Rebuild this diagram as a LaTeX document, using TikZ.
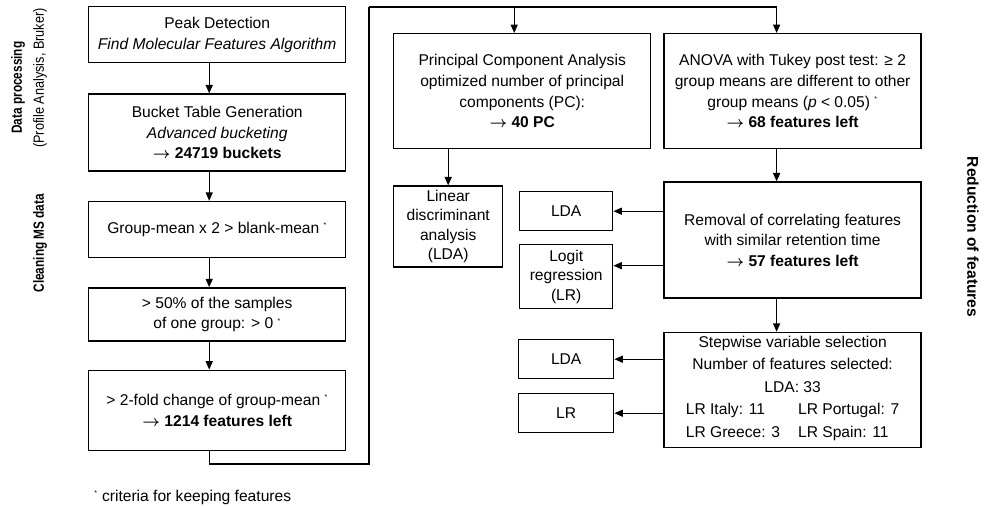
\documentclass[tikz,border=0pt]{standalone}
\usepackage{fontspec}
\setmainfont{Liberation Sans}
\usepackage{tikz}
\usetikzlibrary{arrows.meta,positioning}

\newcommand{\yields}{\mbox{\boldmath$\rightarrow$}}

\begin{document}
\begin{tikzpicture}[
  box/.style={draw, line width=1pt, minimum width=6.425cm, align=center, inner sep=2pt,
    font=\fontsize{11.1}{14.7}\selectfont},
  small/.style={box, minimum width=2.325cm},
  arr/.style={-{Triangle[length=6pt,width=5pt]}, line width=0.9pt},
  link/.style={line width=0.9pt},
  side/.style={font=\fontsize{11.1}{14.7}\selectfont, inner sep=0pt},
  node distance=0.725cm,
]
\useasboundingbox (0,0) rectangle (24.6,-12.65);

% left column: data processing and cleaning
\node[box, minimum height=1.4cm, anchor=north west] (peak) at (2.2,-0.15)
  {Peak Detection\\\textit{Find Molecular Features Algorithm}};
\node[box, minimum height=1.925cm, below=0.75cm of peak] (bucket)
  {Bucket Table Generation\\\textit{Advanced bucketing}\\\textbf{\yields\ 24719 buckets}};
\node[box, minimum height=1.4cm, below=of bucket] (blank)
  {Group-mean x 2 > blank-mean \textsuperscript{\tiny *}};
\node[box, minimum height=1.325cm, below=of blank] (half)
  {> 50\% of the samples\\of one group: > 0 \textsuperscript{\tiny *}};
\node[box, minimum height=2cm, below=0.7cm of half] (fold)
  {> 2-fold change of group-mean \textsuperscript{\tiny *}\\\textbf{\yields\ 1214 features left}};

\draw[arr] ([xshift=-0.2cm]peak.south) -- ([xshift=-0.2cm]bucket.north);
\draw[arr] ([xshift=-0.2cm]bucket.south) -- ([xshift=-0.2cm]blank.north);
\draw[arr] ([xshift=-0.2cm]blank.south) -- ([xshift=-0.2cm]half.north);
\draw[arr] ([xshift=-0.2cm]half.south) -- ([xshift=-0.2cm]fold.north);

% reduction of features
\node[box, minimum height=2.875cm, anchor=north west] (pca) at (9.825,-0.825)
  {Principal Component Analysis\\optimized number of principal\\components (PC):\\\textbf{\yields\ 40 PC}};
\node[box, minimum height=2.875cm, right=0.3cm of pca] (anova)
  {ANOVA with Tukey post test: ≥ 2\\group means are different to other\\group means (\textit{p} < 0.05) \textsuperscript{\tiny *}\\\textbf{\yields\ 68 features left}};
\node[box, minimum height=2.9cm, below=0.8cm of anova] (removal)
  {Removal of correlating features\\with similar retention time\\\textbf{\yields\ 57 features left}};
\node[box, minimum height=2.875cm, below=0.825cm of removal, inner sep=1pt,
  font=\fontsize{11.1}{16}\selectfont] (stepwise)
  {Stepwise variable selection\\Number of features selected:\\LDA: 33\\
   \begin{tabular}[t]{@{}l@{\hspace{0.45cm}}l@{}}
     LR Italy: 11 & LR Portugal: 7\\
     LR Greece: 3 & LR Spain: 11
   \end{tabular}};

\node[small, minimum width=2.725cm, minimum height=2.025cm,
  below=0.9cm of pca.south west, anchor=north west, font=\fontsize{11.1}{13.8}\selectfont] (lin)
  {Linear\\discriminant\\analysis\\(LDA)};
\node[small, minimum height=0.975cm, anchor=north west] (lda1) at (12.975,-4.775) {LDA};
\node[small, minimum height=1.6cm, anchor=north west,
  font=\fontsize{11.1}{13.8}\selectfont] (lgt) at (12.975,-6.1) {Logit\\regression\\(LR)};
\node[small, minimum width=2.375cm, minimum height=0.975cm, anchor=north west] (lda2)
  at (12.95,-8.475) {LDA};
\node[small, minimum width=2.375cm, minimum height=0.975cm, anchor=north west] (lr)
  at (12.95,-9.825) {LR};

\coordinate (low) at (9.225,-11.6);
\coordinate (high) at (9.225,-0.175);
\draw[link] ([xshift=-0.2cm]fold.south) |- (low) -- (high);
\draw[arr] (high) -| ([xshift=-0.4cm]anova.north);
\draw[arr] ([xshift=-0.2cm]pca.north |- high) -- ([xshift=-0.2cm]pca.north);
\draw[arr] ([xshift=-0.4cm]anova.south) -- ([xshift=-0.4cm]removal.north);
\draw[arr] ([xshift=-0.4cm]removal.south) -- ([xshift=-0.4cm]stepwise.north);
\draw[arr] (lin.north |- pca.south) -- (lin.north);
\draw[arr] (removal.west |- lda1.east) -- (lda1.east);
\draw[arr] ([yshift=0.275cm]removal.west |- lgt.east) -- ([yshift=0.275cm]lgt.east);
\draw[arr] (stepwise.west |- lda2.east) -- (lda2.east);
\draw[arr] (stepwise.west |- lr.east) -- (lr.east);

% side labels
\node[side, rotate=90, font=\fontsize{10.5}{12}\selectfont\bfseries] (dproc) at (0.45,-2.19)
  {\scalebox{0.8}[1]{Data processing}};
\node[side, rotate=90, font=\fontsize{10.5}{12}\selectfont] (profile) at (1.0,-1.95)
  {\scalebox{0.86}[1]{(Profile Analysis, Bruker)}};
\node[side, rotate=90, font=\fontsize{10.5}{12}\selectfont\bfseries] (clean) at (1.0,-6.08)
  {\scalebox{0.8}[1]{Cleaning MS data}};
\node[side, rotate=-90, font=\fontsize{11.1}{14.7}\selectfont\bfseries] (reduce) at (24.325,-5.925)
  {Reduction of features};

% footnote
\node[side, anchor=west] (crit) at (2.35,-12.425)
  {\textsuperscript{\tiny *} criteria for keeping features};

\end{tikzpicture}
\end{document}
